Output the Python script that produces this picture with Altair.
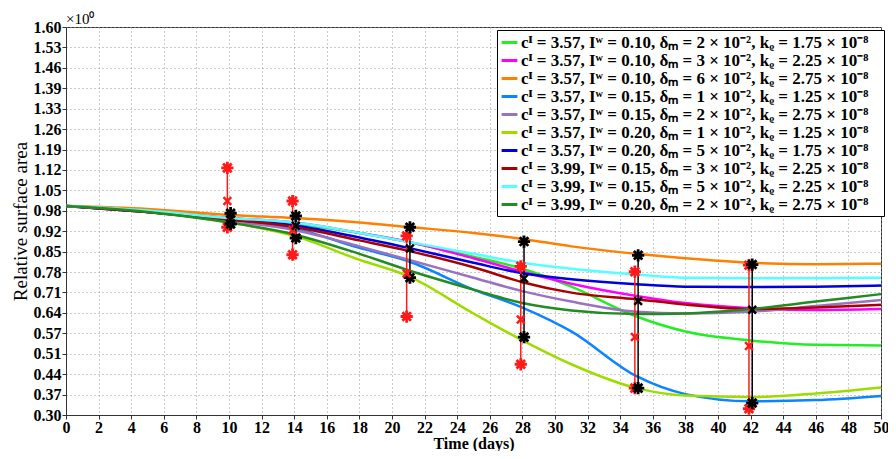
import altair as alt
import pandas as pd

days = [0, 5, 10, 14, 18, 21, 25, 28, 31, 35, 38, 42, 46, 50]
labels = [
    "cᴵ = 3.57,  Iʷ = 0.10,  δₘ = 2 × 10⁻²,  kᵨ = 1.75 × 10⁻⁸",
    "cᴵ = 3.57,  Iʷ = 0.10,  δₘ = 3 × 10⁻²,  kᵨ = 2.25 × 10⁻⁸",
    "cᴵ = 3.57,  Iʷ = 0.10,  δₘ = 6 × 10⁻²,  kᵨ = 2.75 × 10⁻⁸",
    "cᴵ = 3.57,  Iʷ = 0.15,  δₘ = 1 × 10⁻²,  kᵨ = 1.25 × 10⁻⁸",
    "cᴵ = 3.57,  Iʷ = 0.15,  δₘ = 2 × 10⁻²,  kᵨ = 2.75 × 10⁻⁸",
    "cᴵ = 3.57,  Iʷ = 0.20,  δₘ = 1 × 10⁻²,  kᵨ = 1.25 × 10⁻⁸",
    "cᴵ = 3.57,  Iʷ = 0.20,  δₘ = 5 × 10⁻²,  kᵨ = 1.75 × 10⁻⁸",
    "cᴵ = 3.99,  Iʷ = 0.15,  δₘ = 3 × 10⁻²,  kᵨ = 2.25 × 10⁻⁸",
    "cᴵ = 3.99,  Iʷ = 0.15,  δₘ = 5 × 10⁻²,  kᵨ = 2.25 × 10⁻⁸",
    "cᴵ = 3.99,  Iʷ = 0.20,  δₘ = 2 × 10⁻²,  kᵨ = 2.75 × 10⁻⁸",
]
colors = ["#22ee22", "#ff00ff", "#ff8000", "#0a84ff", "#9b72c0",
          "#9edc00", "#0000e0", "#aa0000", "#55ffff", "#228b22"]
green = [1.0, 0.985, 0.96, 0.94, 0.91, 0.88, 0.83, 0.79, 0.73, 0.63, 0.58, 0.55, 0.535, 0.533]
magenta = [1.0, 0.985, 0.96, 0.945, 0.91, 0.88, 0.825, 0.78, 0.74, 0.699, 0.675, 0.658, 0.652, 0.655]
orange = [1.0, 0.99, 0.97, 0.96, 0.945, 0.93, 0.91, 0.89, 0.865, 0.84, 0.825, 0.81, 0.805, 0.807]
dodger = [1.0, 0.98, 0.95, 0.925, 0.86, 0.815, 0.72, 0.66, 0.58, 0.43, 0.37, 0.346, 0.35, 0.364]
purple = [1.0, 0.98, 0.95, 0.92, 0.865, 0.82, 0.76, 0.715, 0.68, 0.646, 0.64, 0.646, 0.665, 0.685]
yellowgreen = [1.0, 0.98, 0.945, 0.9, 0.82, 0.765, 0.64, 0.55, 0.47, 0.39, 0.365, 0.36, 0.372, 0.392]
blue = [1.0, 0.98, 0.955, 0.935, 0.895, 0.86, 0.81, 0.775, 0.755, 0.738, 0.73, 0.729, 0.73, 0.734]
darkred = [1.0, 0.98, 0.955, 0.93, 0.885, 0.85, 0.795, 0.745, 0.71, 0.688, 0.67, 0.655, 0.66, 0.669]
cyan = [1.0, 0.985, 0.96, 0.945, 0.91, 0.88, 0.84, 0.81, 0.79, 0.771, 0.76, 0.758, 0.758, 0.76]
darkgreen = [1.0, 0.98, 0.945, 0.905, 0.84, 0.785, 0.72, 0.675, 0.65, 0.638, 0.64, 0.655, 0.68, 0.705]
series = [green, magenta, orange, dodger, purple, yellowgreen, blue, darkred, cyan, darkgreen]

exp_days = [10, 14, 21, 28, 35, 42]
exp_min = [0.929, 0.837, 0.63, 0.47, 0.39, 0.321]
exp_mean = [1.017, 0.92, 0.774, 0.62, 0.561, 0.531]
exp_max = [1.128, 1.017, 0.90, 0.798, 0.78, 0.802]
sim_min = [0.940, 0.893, 0.76, 0.561, 0.39, 0.34]
sim_mean = [0.955, 0.934, 0.858, 0.757, 0.682, 0.653]
sim_max = [0.976, 0.967, 0.929, 0.881, 0.835, 0.804]

rows = []
for lab, vals in zip(labels, series):
    for d, v in zip(days, vals):
        rows.append({"label": lab, "day": d, "value": v})
curves = pd.DataFrame(rows)

eb = []
for i, d in enumerate(exp_days):
    eb.append({"grp": "exp", "day": d, "off": -0.1, "lo": exp_min[i], "mean": exp_mean[i], "hi": exp_max[i]})
    eb.append({"grp": "sim", "day": d, "off": 0.1, "lo": sim_min[i], "mean": sim_mean[i], "hi": sim_max[i]})
ebdf = pd.DataFrame(eb)

font = "Liberation Serif"
yticks = [round(0.30 + i * 1.3 / 19, 6) for i in range(20)]
xaxis = alt.Axis(values=list(range(0, 51, 2)), title="Time (days)", gridDash=[1, 3],
                 gridColor="#999", labelFont=font, labelFontWeight="bold", labelFontSize=16,
                 titleFont=font, titleFontWeight="bold", titleFontSize=16,
                 tickSize=4, domainColor="#333", tickColor="#333", labelColor="black",
                 titleColor="black", labelPadding=0, titlePadding=0,
                 labelOverlap=False, labelFlush=False)
yaxis = alt.Axis(values=yticks, labelExpr="format(datum.value, '.2f')", title="Relative surface area",
                 gridDash=[1, 3], gridColor="#999", labelFont=font, labelFontWeight="bold",
                 labelFontSize=16, titleFont=font, titleFontWeight="normal", titleFontSize=19,
                 tickSize=4, domainColor="#333", tickColor="#333", labelColor="black",
                 titleColor="black", labelPadding=1, titlePadding=3,
                 labelOverlap=False, labelFlush=False)
xsc = alt.Scale(domain=[0, 50], nice=False)
ysc = alt.Scale(domain=[0.30, 1.60], nice=False)

lines = alt.Chart(curves).mark_line(strokeWidth=2.5, interpolate="monotone").encode(
    x=alt.X("day:Q", scale=xsc, axis=xaxis), y=alt.Y("value:Q", scale=ysc, axis=yaxis),
    color=alt.Color("label:N", sort=labels, scale=alt.Scale(domain=labels, range=colors),
                    legend=alt.Legend(title=None, orient="none", legendX=431, legendY=3,
                                      symbolType="stroke", symbolStrokeWidth=3, symbolSize=250,
                                      labelFont=font, labelFontWeight="bold", labelFontSize=17,
                                      labelLimit=460, rowPadding=0, padding=3, labelOffset=2,
                                      strokeColor="black", fillColor="white", labelColor="black")),
)

ast = "M-1,0L1,0M0,-1L0,1M-0.7,-0.7L0.7,0.7M-0.7,0.7L0.7,-0.7"
xm = "M-1,-1L1,1M-1,1L1,-1"
base = alt.Chart(ebdf).transform_calculate(xd="datum.day + datum.off")
ecol = alt.Color("grp:N", scale=alt.Scale(domain=["exp", "sim"], range=["#ff1a1a", "black"]), legend=None)
xe = alt.X("xd:Q", scale=xsc, axis=xaxis)
def yy(f):
    return alt.Y(f + ":Q", scale=ysc, axis=yaxis)
rules = base.mark_rule(strokeWidth=1.5).encode(x=xe, y=yy("lo"), y2="hi:Q", color=ecol)
lo = base.mark_point(shape=ast, size=150, strokeWidth=2.8, filled=False, opacity=1).encode(x=xe, y=yy("lo"), color=ecol)
hi = base.mark_point(shape=ast, size=150, strokeWidth=2.8, filled=False, opacity=1).encode(x=xe, y=yy("hi"), color=ecol)
mn = base.mark_point(shape=xm, size=60, strokeWidth=2.5, filled=False, opacity=1).encode(x=xe, y=yy("mean"), color=ecol)
expo = alt.Chart(pd.DataFrame({"t": ["×10⁰"]})).mark_text(
    font=font, fontSize=15, align="left", baseline="bottom").encode(
    text="t:N", x=alt.value(0), y=alt.value(0))

chart = alt.layer(lines, rules, lo, hi, mn, expo).resolve_scale(color="independent").properties(
    width=815, height=388, autosize=alt.AutoSizeParams(type="none"),
    padding={"left": 58, "top": 19, "right": 7, "bottom": 36},
).configure_view(stroke="#333")

chart.save("out.html", embed_options={"renderer": "svg", "actions": False})
